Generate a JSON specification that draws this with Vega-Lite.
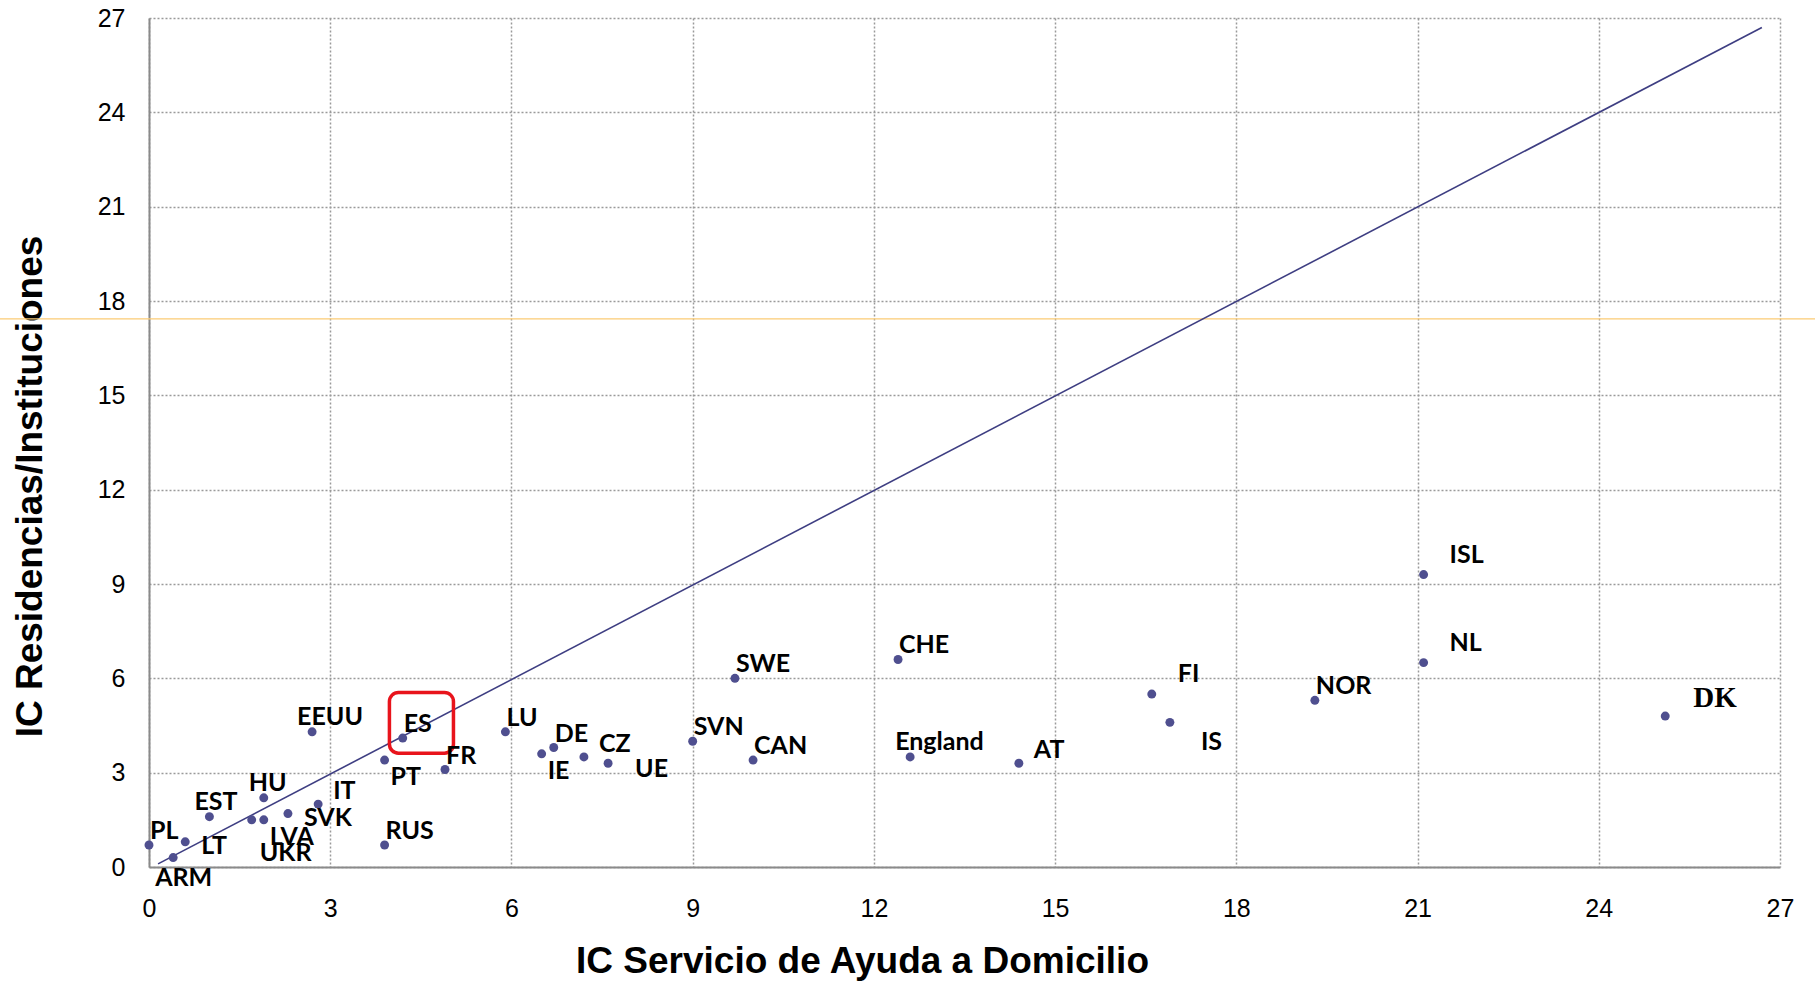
{
  "$schema": "https://vega.github.io/schema/vega-lite/v6.json",
  "width": 1631,
  "height": 849,
  "autosize": {"type": "none"},
  "padding": {"left": 149, "top": 18, "right": 35, "bottom": 115},
  "background": "white",
  "config": {
    "view": {"stroke": null},
    "axis": {
      "labelFont": "Liberation Sans",
      "labelFontSize": 25,
      "labelColor": "#000000",
      "labelFlush": false,
      "titleFont": "Liberation Sans",
      "titleFontSize": 37,
      "titleFontWeight": "bold",
      "titleColor": "#000000",
      "ticks": false,
      "tickSize": 0,
      "grid": true,
      "gridColor": "#9a9a9a",
      "gridDash": [2, 2],
      "gridWidth": 1.5,
      "domainColor": "#8a8a8a",
      "domainWidth": 2
    }
  },
  "data": {
    "values": [
      {"country": "PL", "x": 0.0, "y": 0.7, "pos": "ne"},
      {"country": "LT", "x": 0.6, "y": 0.8, "pos": "e"},
      {"country": "ARM", "x": 0.4, "y": 0.3, "pos": "s"},
      {"country": "EST", "x": 1.0, "y": 1.6, "pos": "n"},
      {"country": "UKR", "x": 1.7, "y": 1.5, "pos": "ss"},
      {"country": "LVA", "x": 1.9, "y": 1.5, "pos": "se"},
      {"country": "HU", "x": 1.9, "y": 2.2, "pos": "n"},
      {"country": "SVK", "x": 2.3, "y": 1.7, "pos": "e"},
      {"country": "IT", "x": 2.8, "y": 2.0, "pos": "eup"},
      {"country": "EEUU", "x": 2.7, "y": 4.3, "pos": "n"},
      {"country": "ES", "x": 4.2, "y": 4.1, "pos": "ne"},
      {"country": "PT", "x": 3.9, "y": 3.4, "pos": "se"},
      {"country": "FR", "x": 4.9, "y": 3.1, "pos": "ne"},
      {"country": "RUS", "x": 3.9, "y": 0.7, "pos": "ne"},
      {"country": "LU", "x": 5.9, "y": 4.3, "pos": "ne"},
      {"country": "DE", "x": 6.7, "y": 3.8, "pos": "ne"},
      {"country": "IE", "x": 6.5, "y": 3.6, "pos": "se"},
      {"country": "CZ", "x": 7.2, "y": 3.5, "pos": "eup"},
      {"country": "UE", "x": 7.6, "y": 3.3, "pos": "efar"},
      {"country": "SVN", "x": 9.0, "y": 4.0, "pos": "ne"},
      {"country": "SWE", "x": 9.7, "y": 6.0, "pos": "ne"},
      {"country": "CAN", "x": 10.0, "y": 3.4, "pos": "ne"},
      {"country": "England", "x": 12.6, "y": 3.5, "pos": "n"},
      {"country": "CHE", "x": 12.4, "y": 6.6, "pos": "ne"},
      {"country": "AT", "x": 14.4, "y": 3.3, "pos": "eup"},
      {"country": "FI", "x": 16.6, "y": 5.5, "pos": "ene"},
      {"country": "IS", "x": 16.9, "y": 4.6, "pos": "sefar"},
      {"country": "NOR", "x": 19.3, "y": 5.3, "pos": "ne"},
      {"country": "ISL", "x": 21.1, "y": 9.3, "pos": "ene"},
      {"country": "NL", "x": 21.1, "y": 6.5, "pos": "ene"},
      {"country": "DK", "x": 25.1, "y": 4.8, "pos": "dk"}
    ]
  },
  "encoding": {
    "x": {
      "field": "x", "type": "quantitative",
      "scale": {"domain": [0, 27], "nice": false, "zero": false},
      "axis": {"values": [0, 3, 6, 9, 12, 15, 18, 21, 24, 27], "labelPadding": 29, "title": "IC Servicio de Ayuda a Domicilio", "titleX": 713, "titleY": 94, "titleBaseline": "middle", "titleAnchor": null}
    },
    "y": {
      "field": "y", "type": "quantitative",
      "scale": {"domain": [0, 27], "nice": false, "zero": false},
      "axis": {"values": [0, 3, 6, 9, 12, 15, 18, 21, 24, 27], "labelPadding": 24, "title": "IC Residencias/Instituciones", "titleX": -119, "titleY": 468, "titleBaseline": "middle", "titleAngle": -90}
    }
  },
  "layer": [
    {
      "data": {"values": [{"x": -2.5, "x2": 27.6, "y": 17.43}]},
      "mark": {"type": "rule", "color": "#FBCB74", "strokeWidth": 1.2, "clip": false},
      "encoding": {"x2": {"field": "x2"}}
    },
    {
      "data": {"values": [{"x": 0.15, "y": 0.1}, {"x": 26.7, "y": 26.7}]},
      "mark": {"type": "line", "color": "#3E3E82", "strokeWidth": 1.6},
      "encoding": {}
    },
    {
      "data": {"values": [{"x": 3.98, "x2": 5.04, "y": 3.62, "y2": 5.55}]},
      "mark": {"type": "rect", "fill": "transparent", "stroke": "#E8141C", "strokeWidth": 3.5, "cornerRadius": 9},
      "encoding": {"x2": {"field": "x2"}, "y2": {"field": "y2"}}
    },
    {
      "mark": {"type": "point", "filled": true, "shape": "circle", "size": 80, "color": "#4F4F8F", "opacity": 1}
    },
    {
      "transform": [{"filter": "datum.pos === 'ne'"}],
      "mark": {"type": "text", "align": "left", "baseline": "middle", "dx": 1, "dy": -14, "font": "Lato", "fontWeight": "bold", "fontSize": 25, "color": "#000000"},
      "encoding": {"text": {"field": "country"}}
    },
    {
      "transform": [{"filter": "datum.pos === 'n'"}],
      "mark": {"type": "text", "align": "left", "baseline": "middle", "dx": -15, "dy": -15, "font": "Lato", "fontWeight": "bold", "fontSize": 25, "color": "#000000"},
      "encoding": {"text": {"field": "country"}}
    },
    {
      "transform": [{"filter": "datum.pos === 'ene'"}],
      "mark": {"type": "text", "align": "left", "baseline": "middle", "dx": 26, "dy": -20, "font": "Lato", "fontWeight": "bold", "fontSize": 25, "color": "#000000"},
      "encoding": {"text": {"field": "country"}}
    },
    {
      "transform": [{"filter": "datum.pos === 'eup'"}],
      "mark": {"type": "text", "align": "left", "baseline": "middle", "dx": 15, "dy": -13, "font": "Lato", "fontWeight": "bold", "fontSize": 25, "color": "#000000"},
      "encoding": {"text": {"field": "country"}}
    },
    {
      "transform": [{"filter": "datum.pos === 'e'"}],
      "mark": {"type": "text", "align": "left", "baseline": "middle", "dx": 16, "dy": 4, "font": "Lato", "fontWeight": "bold", "fontSize": 25, "color": "#000000"},
      "encoding": {"text": {"field": "country"}}
    },
    {
      "transform": [{"filter": "datum.pos === 'efar'"}],
      "mark": {"type": "text", "align": "left", "baseline": "middle", "dx": 27, "dy": 6, "font": "Lato", "fontWeight": "bold", "fontSize": 25, "color": "#000000"},
      "encoding": {"text": {"field": "country"}}
    },
    {
      "transform": [{"filter": "datum.pos === 'se'"}],
      "mark": {"type": "text", "align": "left", "baseline": "middle", "dx": 6, "dy": 17, "font": "Lato", "fontWeight": "bold", "fontSize": 25, "color": "#000000"},
      "encoding": {"text": {"field": "country"}}
    },
    {
      "transform": [{"filter": "datum.pos === 'sefar'"}],
      "mark": {"type": "text", "align": "left", "baseline": "middle", "dx": 31, "dy": 20, "font": "Lato", "fontWeight": "bold", "fontSize": 25, "color": "#000000"},
      "encoding": {"text": {"field": "country"}}
    },
    {
      "transform": [{"filter": "datum.pos === 's'"}],
      "mark": {"type": "text", "align": "left", "baseline": "middle", "dx": -18, "dy": 20, "font": "Lato", "fontWeight": "bold", "fontSize": 25, "color": "#000000"},
      "encoding": {"text": {"field": "country"}}
    },
    {
      "transform": [{"filter": "datum.pos === 'ss'"}],
      "mark": {"type": "text", "align": "left", "baseline": "middle", "dx": 8, "dy": 33, "font": "Lato", "fontWeight": "bold", "fontSize": 25, "color": "#000000"},
      "encoding": {"text": {"field": "country"}}
    },
    {
      "transform": [{"filter": "datum.pos === 'dk'"}],
      "mark": {"type": "text", "align": "left", "baseline": "middle", "dx": 28, "dy": -18, "font": "Liberation Serif", "fontWeight": "bold", "fontSize": 29, "color": "#000000"},
      "encoding": {"text": {"field": "country"}}
    }
  ]
}
